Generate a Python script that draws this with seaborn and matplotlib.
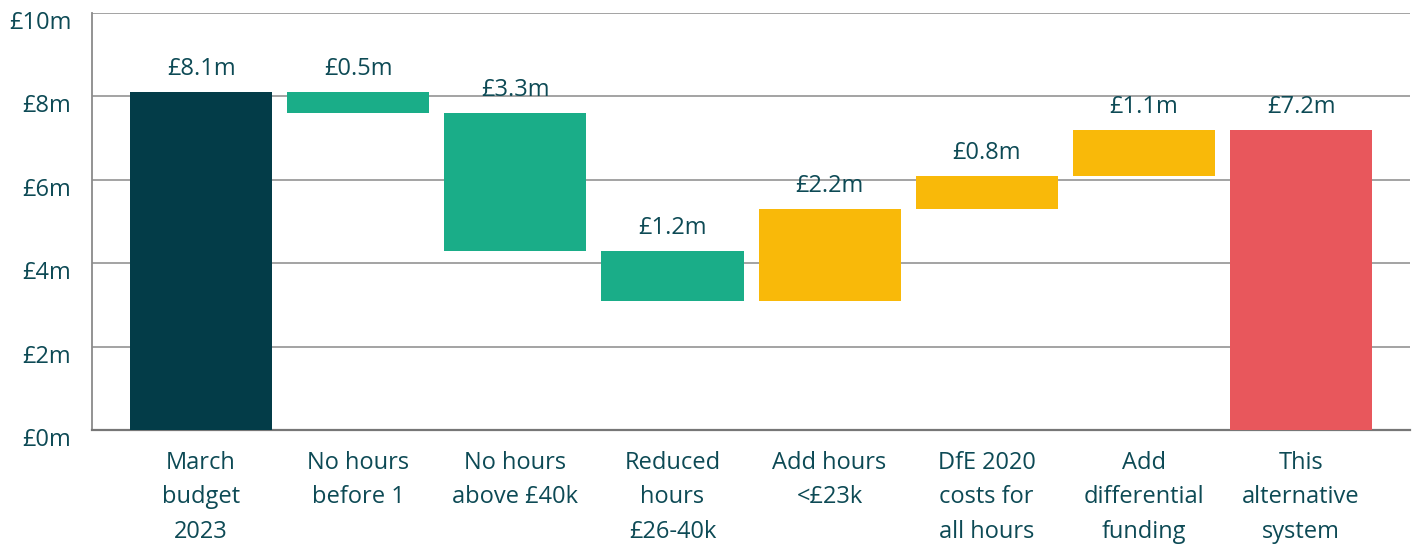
import numpy as np
import pandas as pd
import matplotlib
matplotlib.use("Agg")
import matplotlib.pyplot as plt
import matplotlib.transforms as mtransforms
import seaborn as sns

# Waterfall data (in £m)
categories = ["March\nbudget\n2023", "No hours\nbefore 1", "No hours\nabove £40k",
              "Reduced\nhours\n£26-40k", "Add hours\n<£23k", "DfE 2020\ncosts for\nall hours",
              "Add\ndifferential\nfunding", "This\nalternative\nsystem"]
changes = [8.1, -0.5, -3.3, -1.2, 2.2, 0.8, 1.1, 7.2]
value_labels = ["£8.1m", "£0.5m", "£3.3m", "£1.2m", "£2.2m", "£0.8m", "£1.1m", "£7.2m"]
kinds = ["total", "down", "down", "down", "up", "up", "up", "final"]

kind_colors = {"total": "#033c48", "down": "#1aad88", "up": "#f9b909", "final": "#e8575c"}
text_color = "#0d4a55"

# running totals -> bar bottoms and heights
bottoms, heights = [], []
running = 0.0
for c, k in zip(changes, kinds):
    if k in ("total", "final"):
        bottoms.append(0.0)
        heights.append(c)
        running = c
    else:
        start = running
        running = running + c
        bottoms.append(min(start, running))
        heights.append(abs(c))

df = pd.DataFrame({"category": categories, "height": heights, "bottom": bottoms})

sns.set_style("white")
plt.rcParams["font.family"] = ["Open Sans", "DejaVu Sans"]

fig = plt.figure(figsize=(14.18, 5.44), dpi=100)
ax = fig.add_axes([0.0649, 0.2096, 0.9295, 0.7664])

sns.barplot(data=df, x="category", y="height", bottom=df["bottom"].values,
            color="#888888", width=0.904, errorbar=None, ax=ax, zorder=3)

for patch, k in zip(ax.patches, kinds):
    patch.set_facecolor(kind_colors[k])
    patch.set_edgecolor("none")

fs = 17
# value labels above each bar
for i, (b, h, lab) in enumerate(zip(bottoms, heights, value_labels)):
    ax.annotate(lab, (i, b + h), xytext=(0, 8), textcoords="offset points",
                ha="center", va="bottom", fontsize=fs, color=text_color)

ax.set_ylim(0, 10)
ax.set_xlim(-0.694, 7.694)
ax.set_yticks(np.arange(0, 11, 2))
ax.set_yticklabels([f"£{v}m" for v in range(0, 11, 2)])
ax.yaxis.grid(True, color="#8a8a8a", linewidth=1.1, zorder=0)
ax.set_axisbelow(True)

ax.set_xlabel("")
ax.set_ylabel("")
ax.tick_params(axis="x", length=0, pad=15, labelsize=fs, labelcolor=text_color)
ax.tick_params(axis="y", length=0, pad=15, labelsize=fs, labelcolor=text_color)
for t in ax.get_xticklabels():
    t.set_linespacing(1.58)

offset = mtransforms.ScaledTranslation(0, -7 / 100, fig.dpi_scale_trans)
for t in ax.get_yticklabels():
    t.set_transform(t.get_transform() + offset)

for s in ["top", "right"]:
    ax.spines[s].set_visible(False)
ax.spines["left"].set_color("#8a8a8a")
ax.spines["left"].set_linewidth(1.3)
ax.spines["bottom"].set_color("#777777")
ax.spines["bottom"].set_linewidth(1.6)

fig.savefig("out.png", dpi=100, facecolor="white")
